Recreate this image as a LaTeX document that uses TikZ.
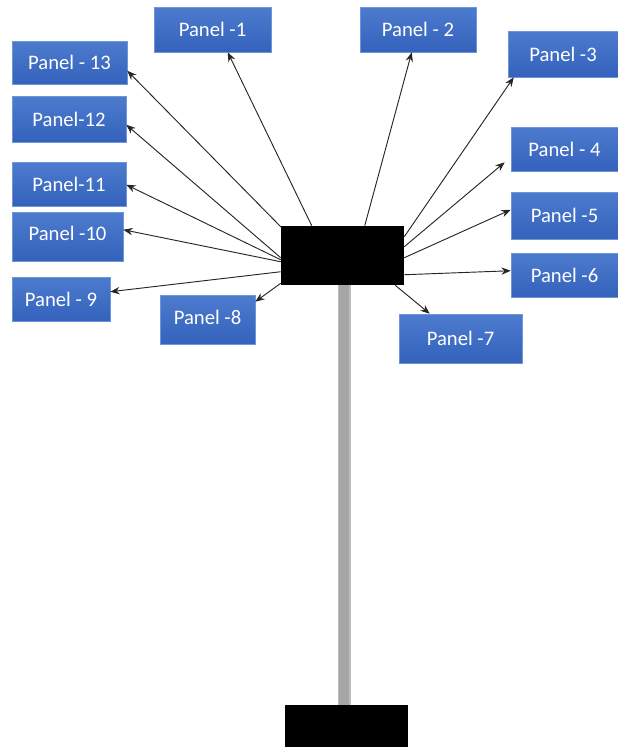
\documentclass[tikz,border=0pt]{standalone}
\usepackage{fontspec}
\setmainfont{Carlito}
\usetikzlibrary{arrows.meta,calc}
\definecolor{ptop}{RGB}{76,123,206}
\definecolor{pbot}{RGB}{52,98,188}
\definecolor{pedge}{RGB}{110,150,215}
\definecolor{polegray}{RGB}{166,166,166}
\definecolor{poleedge}{RGB}{188,188,188}
\begin{document}
\begin{tikzpicture}[x=0.75pt,y=-0.75pt,
  panel/.style={rectangle, top color=ptop, bottom color=pbot, draw=pedge, line width=0.4pt,
    inner sep=0pt, text=white, font=\fontsize{15.5}{18}\selectfont},
  sz/.style args={#1/#2}{minimum width=#1*0.75pt, minimum height=#2*0.75pt},
  blk/.style={rectangle, fill=black, draw=none, inner sep=0pt},
  arr/.style={-{Stealth[length=7pt,width=5.5pt]}, line width=0.7pt, draw=black!85}]
\useasboundingbox (0,0) rectangle (618,747);
% pole and base
\fill[poleedge] (337.5,285) rectangle (350.5,706);
\fill[polegray] (339,285) rectangle (349,706);
\node[blk, sz=123/42] (base) at (346.5,726) {};
\node[blk, sz=123/59] (hub) at (342.5,255.5) {};
% panels
\node[panel, sz=117/45] (p1) at (212.5,29.5) {Panel -1};
\node[panel, sz=116/45] (p2) at (418,29.5) {Panel - 2};
\node[panel, sz=110/46] (p3) at (563,54) {Panel -3};
\node[panel, sz=107/44] (p4) at (564.5,149) {Panel - 4};
\node[panel, sz=107/47] (p5) at (564.5,215.5) {Panel -5};
\node[panel, sz=107/44] (p6) at (564.5,275) {Panel -6};
\node[panel, sz=123/49] (p7) at (460.5,338.5) {Panel -7};
\node[panel, sz=95/49] (p8) at (207.5,319.5) {\raisebox{3pt}{Panel -8}};
\node[panel, sz=98/44] (p9) at (61,299) {Panel - 9};
\node[panel, sz=111/49] (p10) at (67.5,236.5) {\raisebox{4.5pt}{Panel -10}};
\node[panel, sz=114/44] (p11) at (69,184) {Panel-11};
\node[panel, sz=114/46] (p12) at (69,119) {Panel-12};
\node[panel, sz=115/43] (p13) at (69.5,62.5) {Panel - 13};
% connectors
\draw[arr] ($(hub.north west)+(31,0)$) -- ($(p1.south west)+(74,0)$);
\draw[arr] ($(hub.north west)+(84,0)$) -- ($(p2.south west)+(52,0)$);
\draw[arr] ($(hub.north east)+(0,11)$) -- ($(p3.south west)+(6,0)$);
\draw[arr] ($(hub.north east)+(0,21)$) -- ($(p4.south west)+(-6,-9)$);
\draw[arr] ($(hub.north east)+(0,32)$) -- ($(p5.north west)+(0,18)$);
\draw[arr] ($(hub.north east)+(0,49)$) -- ($(p6.north west)+(0,18)$);
\draw[arr] ($(hub.south east)+(-9,0)$) -- ($(p7.north west)+(31,0)$);
\draw[arr] ($(hub.south west)+(0,-2)$) -- ($(p8.north east)+(0,7)$);
\draw[arr] ($(hub.north west)+(0,46)$) -- ($(p9.north east)+(0,15)$);
\draw[arr] ($(hub.north west)+(0,36)$) -- ($(p10.north east)+(0,18)$);
\draw[arr] ($(hub.north west)+(0,34)$) -- ($(p11.north east)+(0,23)$);
\draw[arr] ($(hub.north west)+(0,32)$) -- ($(p12.north east)+(0,29)$);
\draw[arr] ($(hub.north west)+(1,2)$) -- ($(p13.north east)+(0,30)$);
\end{tikzpicture}
\end{document}
